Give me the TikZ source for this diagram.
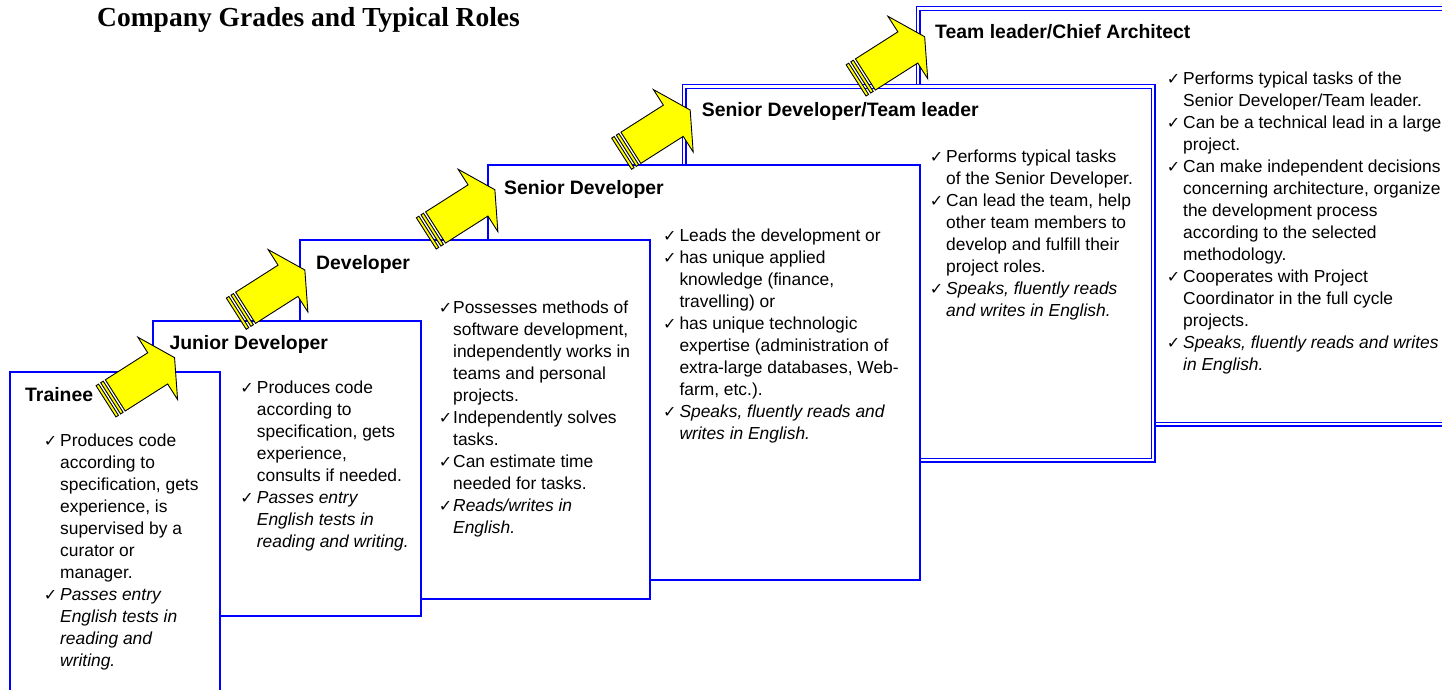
\documentclass[tikz,border=0pt]{standalone}
\usepackage{fontspec}
\setmainfont{Liberation Sans}
\newfontfamily\titlefont{Liberation Serif}
\newfontfamily\symfont{DejaVu Sans}
\definecolor{boxblue}{RGB}{0,0,255}
\definecolor{arrowyellow}{RGB}{255,255,0}
% check mark hanging to the left of a duty line
\newcommand\ckmark[1][3pt]{\llap{{\symfont\fontsize{16}{16}\selectfont ✓}\hspace{#1}}}
\newcommand\firstline{\rule{0pt}{13pt}}

\tikzset{
  gradebox/.style={draw=boxblue, fill=white, line width=1.4pt, anchor=north west,
    inner sep=0pt, outer sep=0pt},
  seniorbox/.style={gradebox, line width=2.6pt},
  doublebox/.style={gradebox, line width=1.3pt, double=white, double distance=2.4pt},
  grade/.style={anchor=base west, inner sep=0pt,
    font=\fontsize{19.4}{23}\selectfont\bfseries},
  duties/.style={anchor=north west, inner sep=0pt, align=left,
    font=\fontsize{17.4}{22}\selectfont},
  arrowpart/.style={fill=arrowyellow, draw=black, line width=0.9pt, line join=miter},
  gradearrow/.pic={
    \filldraw[arrowpart] (0,-18.5) rectangle (3,18.5);
    \filldraw[arrowpart] (5.5,-18.5) rectangle (8.5,18.5);
    \filldraw[arrowpart] (11,-18.5) -- (61.3,-18.5) -- (61.3,-37) -- (81.3,0)
      -- (61.3,37) -- (61.3,18.5) -- (11,18.5) -- cycle;
  }
}

\begin{document}
\begin{tikzpicture}[x=1pt, y=-1pt]
\useasboundingbox[fill=white] (0,0) rectangle (1442,690);

% grade boxes, highest grade at the back
\node[doublebox, minimum width=560, minimum height=415.5] (teambox) at (918,8.5) {};
\node[doublebox, minimum width=469, minimum height=373.5] (sentlbox) at (684,86.5) {};
\node[seniorbox, minimum width=432, minimum height=415] (seniorbox) at (488,165) {};
\node[gradebox, minimum width=350, minimum height=359] (devbox) at (300,240) {};
\node[gradebox, minimum width=268, minimum height=295] (juniorbox) at (153,321) {};
\node[gradebox, minimum width=210, minimum height=330] (traineebox) at (10,372) {};

% promotion arrows
\coordinate (up1) at (106,401.3);
\coordinate (up2) at (236.3,313.7);
\coordinate (up3) at (426.3,233.4);
\coordinate (up4) at (621.6,153.7);
\coordinate (up5) at (856.1,80.4);
\foreach \a in {up1,up2,up3,up4,up5}
  \pic[rotate=32.5] at (\a) {gradearrow};

% title
\node[anchor=base west, inner sep=0pt,
  font={\titlefont\bfseries\fontsize{27.5}{30}\selectfont}] (title) at (97,27)
  {Company Grades and Typical Roles};

% grade names
\node[grade] (traineelabel) at (25,401.7) {Trainee};
\node[grade] (juniorlabel) at (169.3,349.3) {Junior Developer};
\node[grade] (devlabel) at (316,269.3) {Developer};
\node[grade] (seniorlabel) at (504,194) {Senior Developer};
\node[grade] (sentllabel) at (701.7,116.7) {Senior Developer/Team leader};
\node[grade] (teamlabel) at (935,38.3) {Team leader/Chief Architect};

% duties of each grade
\node[duties] (traineetext) at (60,433) {%
\firstline\ckmark Produces code\\
according to\\
specification, gets\\
experience, is\\
supervised by a\\
curator or\\
manager.\\
\ckmark\textit{Passes entry}\\
\textit{English tests in}\\
\textit{reading and}\\
\textit{writing.}};

\node[duties] (juniortext) at (256.7,380.5) {%
\firstline\ckmark Produces code\\
according to\\
specification, gets\\
experience,\\
consults if needed.\\
\ckmark\textit{Passes entry}\\
\textit{English tests in}\\
\textit{reading and writing.}};

\node[duties] (devtext) at (453,300) {%
\firstline\ckmark[1pt]Possesses methods of\\
software development,\\
independently works in\\
teams and personal\\
projects.\\
\ckmark[1pt]Independently solves\\
tasks.\\
\ckmark[1pt]Can estimate time\\
needed for tasks.\\
\ckmark[1pt]\textit{Reads/writes in}\\
\textit{English.}};

\node[duties] (seniortext) at (679.3,228) {%
\firstline\ckmark Leads the development or\\
\ckmark has unique applied\\
knowledge (finance,\\
travelling) or\\
\ckmark has unique technologic\\
expertise (administration of\\
extra-large databases, Web-\\
farm, etc.).\\
\ckmark\textit{Speaks, fluently reads and}\\
\textit{writes in English.}};

\node[duties] (sentltext) at (946,149.7) {%
\firstline\ckmark Performs typical tasks\\
of the Senior Developer.\\
\ckmark Can lead the team, help\\
other team members to\\
develop and fulfill their\\
project roles.\\
\ckmark\textit{Speaks, fluently reads}\\
\textit{and writes in English.}};

\node[duties] (teamtext) at (1183,71.3) {%
\firstline\ckmark Performs typical tasks of the\\
Senior Developer/Team leader.\\
\ckmark Can be a technical lead in a large\\
project.\\
\ckmark Can make independent decisions\\
concerning architecture, organize\\
the development process\\
according to the selected\\
methodology.\\
\ckmark Cooperates with Project\\
Coordinator in the full cycle\\
projects.\\
\ckmark\textit{Speaks, fluently reads and writes}\\
\textit{in English.}};
\end{tikzpicture}
\end{document}
